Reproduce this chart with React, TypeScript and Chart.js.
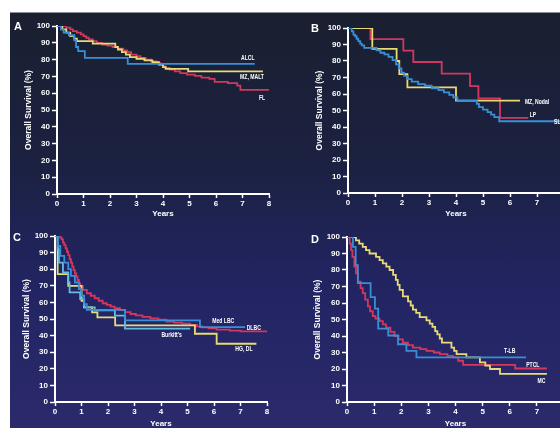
import React, { useEffect, useRef } from 'react';
import { Chart, registerables } from 'chart.js';

Chart.register(...registerables);

type Pt = [number, number];

// ---------- axes ----------
const X_MIN = 0;
const X_MAX = 8;
const X_STEP = 1;
const Y_MIN = 0;
const Y_MAX = 100;
const Y_STEP = 10;
const Y_TITLE = 'Overall Survival (%)';
const X_TITLE = 'Years';

// ---------- Panel A ----------
const A_ALCL: Pt[] = [
  [0, 100], [0.15, 98], [0.25, 96], [0.45, 94.5], [0.65, 91.5], [0.72, 87.5], [0.8, 85],
  [1.05, 81], [2.67, 77.5], [7.46, 77.5],
];
const A_MZ_MALT: Pt[] = [
  [0, 100], [0.2, 98], [0.35, 96], [0.5, 94], [0.65, 92.5], [0.75, 91], [1.35, 89.5],
  [2.2, 87.5], [2.3, 86], [2.45, 84.5], [2.6, 83], [2.75, 81.5], [3.0, 80.5], [3.3, 79.5],
  [3.6, 78.5], [3.85, 77], [4.0, 75.5], [4.1, 74.5], [4.95, 73], [7.77, 73],
];
const A_FL: Pt[] = [
  [0, 100], [0.35, 99], [0.5, 98], [0.6, 97], [0.75, 96], [0.9, 95], [1.0, 94], [1.1, 93],
  [1.2, 92], [1.35, 91], [1.5, 90], [1.7, 89], [1.9, 88.3], [2.1, 87.5], [2.3, 86.5],
  [2.5, 85.5], [2.65, 84.5], [2.8, 83], [3.0, 82], [3.15, 81], [3.35, 80], [3.55, 79],
  [3.75, 78], [3.9, 77], [4.0, 76], [4.1, 75], [4.25, 74], [4.45, 73], [4.65, 72], [4.9, 71],
  [5.2, 70.3], [5.45, 69.3], [5.75, 68.5], [5.95, 66.8], [6.45, 66], [6.8, 64.5], [6.92, 62],
  [8, 62],
];

// ---------- Panel B ----------
const B_LP: Pt[] = [
  [0, 100], [0.83, 93.3], [2.05, 86.3], [2.42, 79.4], [3.47, 72.3], [4.52, 64.8], [4.83, 57.3],
  [5.63, 45.5], [6.68, 45.5],
];
const B_MZ_NODAL: Pt[] = [
  [0, 100], [0.9, 87.3], [1.8, 80], [1.9, 72], [2.2, 64], [4.0, 56], [6.37, 56],
];
const B_SLL: Pt[] = [
  [0, 100], [0.14, 98], [0.2, 96], [0.26, 95], [0.32, 93.5], [0.38, 92], [0.45, 90.5],
  [0.51, 89.5], [0.6, 88], [1.06, 86.5], [1.2, 85], [1.35, 84], [1.5, 82.5], [1.65, 80.5],
  [1.78, 78], [1.88, 75.5], [1.98, 73], [2.08, 71], [2.2, 69], [2.36, 67.5], [2.6, 66],
  [2.85, 65], [3.1, 63.5], [3.35, 62.3], [3.55, 61], [3.75, 59.5], [3.9, 58], [4.05, 56],
  [4.77, 54], [4.85, 52], [5.0, 50.5], [5.17, 49], [5.3, 47.5], [5.42, 46], [5.6, 43.5],
  [8, 43.5],
];

// ---------- Panel C ----------
const C_DLBC: Pt[] = [
  [0, 100], [0.2, 99], [0.25, 98], [0.3, 96], [0.35, 94.5], [0.4, 92.5], [0.45, 90.5],
  [0.5, 88.5], [0.55, 86], [0.6, 84], [0.65, 81.5], [0.7, 79.5], [0.75, 77.5], [0.8, 75.5],
  [0.85, 73.5], [0.9, 71.5], [0.95, 70], [1.05, 67.5], [1.2, 65.5], [1.35, 64], [1.5, 62.5],
  [1.65, 61], [1.8, 59.5], [1.95, 58.5], [2.1, 57.5], [2.25, 56.5], [2.45, 55.3], [2.65, 54.2],
  [2.85, 53], [3.05, 52.2], [3.3, 51.3], [3.6, 50.4], [3.9, 49.6], [4.2, 48.5], [4.5, 47.8],
  [4.8, 47.2], [5.1, 46.5], [5.35, 45.6], [5.55, 45], [5.8, 44.3], [6.1, 43.6], [6.6, 43],
  [7.0, 42.5], [8, 42.5],
];
const C_MED_LBC: Pt[] = [
  [0, 100], [0.12, 94], [0.2, 88], [0.35, 84], [0.5, 80], [0.6, 76], [0.75, 72], [0.9, 68],
  [1.0, 64], [1.1, 59], [1.2, 55.5], [2.64, 49.2], [5.47, 45.1], [7.17, 45.1],
];
const C_BURKITT: Pt[] = [
  [0, 100], [0.1, 92], [0.15, 84], [0.3, 78], [0.5, 72], [0.55, 66], [0.95, 62], [1.1, 57],
  [1.5, 55.2], [2.26, 52], [2.64, 44.2], [5.1, 44.2],
];
const C_HG_DL: Pt[] = [
  [0, 100], [0.1, 77], [0.5, 70], [1.0, 61], [1.1, 57], [1.4, 54], [1.6, 51], [2.27, 46.2],
  [5.28, 41.1], [6.1, 35.1], [7.6, 35.1],
];

// ---------- Panel D ----------
const D_MC: Pt[] = [
  [0, 100], [0.33, 98], [0.45, 96], [0.58, 94], [0.7, 92], [0.83, 90], [1.07, 88], [1.2, 86],
  [1.32, 84], [1.45, 82], [1.57, 80], [1.7, 77], [1.8, 74], [1.87, 71], [1.94, 68], [2.06, 64],
  [2.25, 61], [2.35, 58.5], [2.43, 56], [2.55, 54], [2.68, 51.5], [2.93, 49.5], [3.05, 47.5],
  [3.15, 45.5], [3.25, 43], [3.33, 41], [3.42, 38.5], [3.5, 36], [3.85, 33], [3.95, 31],
  [4.04, 29], [4.4, 27], [4.9, 24], [5.1, 22], [5.27, 20], [5.64, 17], [7.37, 17],
];
const D_PTCL: Pt[] = [
  [0, 100], [0.1, 96], [0.15, 92], [0.2, 88], [0.27, 82], [0.33, 78], [0.4, 73], [0.5, 69],
  [0.58, 66], [0.67, 62], [0.77, 58], [0.85, 55], [0.95, 52], [1.05, 50.5], [1.2, 49],
  [1.32, 47], [1.44, 45], [1.6, 42.5], [1.75, 40], [1.9, 38], [2.06, 36], [2.25, 34.5],
  [2.43, 33], [2.7, 32], [2.93, 31], [3.2, 30], [3.42, 29], [3.7, 28], [3.91, 27], [4.1, 25],
  [4.28, 22.5], [6.2, 20.3], [7.37, 20.3],
];
const D_TLB: Pt[] = [
  [0, 100], [0.22, 94], [0.32, 83], [0.4, 72], [0.87, 63.6], [1.03, 56.6], [1.15, 44.5],
  [1.52, 40.3], [1.88, 35], [2.19, 31], [2.56, 27], [6.6, 27],
];

// ---------- styles ----------
const RED = '#d3375f';
const YELLOW = '#e8da74';
const BLUE = '#3a8ed6';
const CYAN = '#63bde0';
const WHITE = '#ffffff';
const FONT = '"Liberation Sans", Arial, sans-serif';

interface SeriesDef {
  name: string;
  data: Pt[];
  color: string;
  at: Pt; // label anchor in data units
  align?: CanvasTextAlign;
}
interface PanelDef {
  letter: string;
  letterPos: { left: number; top: number };
  box: { left: number; top: number; width: number; height: number };
  pad: { left: number; top: number; right: number; bottom: number };
  yW: number;
  xH: number;
  series: SeriesDef[];
}

const PANELS: PanelDef[] = [
  {
    letter: 'A',
    letterPos: { left: 14, top: 20.5 },
    box: { left: 0, top: 0, width: 280, height: 226 },
    pad: { left: 24, top: 26, right: 11, bottom: 7 },
    yW: 33,
    xH: 25,
    series: [
      { name: 'ALCL', data: A_ALCL, color: BLUE, at: [7.2, 81] },
      { name: 'MZ, MALT', data: A_MZ_MALT, color: YELLOW, at: [7.36, 69.6] },
      { name: 'FL', data: A_FL, color: RED, at: [7.74, 57.1] },
    ],
  },
  {
    letter: 'B',
    letterPos: { left: 311, top: 23 },
    box: { left: 280, top: 0, width: 300, height: 226 },
    pad: { left: 35, top: 28, right: 16, bottom: 7 },
    yW: 33,
    xH: 26,
    series: [
      { name: 'SLL', data: B_SLL, color: BLUE, at: [7.63, 43.2], align: 'left' },
      { name: 'MZ, Nodal', data: B_MZ_NODAL, color: YELLOW, at: [7.0, 55.2] },
      { name: 'LP', data: B_LP, color: RED, at: [6.85, 47.3] },
    ],
  },
  {
    letter: 'C',
    letterPos: { left: 13, top: 232 },
    box: { left: 0, top: 214, width: 280, height: 220 },
    pad: { left: 22, top: 22, right: 13, bottom: 5 },
    yW: 33,
    xH: 27,
    series: [
      { name: 'Med LBC', data: C_MED_LBC, color: BLUE, at: [6.35, 48.6] },
      { name: "Burkitt's", data: C_BURKITT, color: CYAN, at: [4.4, 40.5] },
      { name: 'HG, DL', data: C_HG_DL, color: YELLOW, at: [7.13, 32] },
      { name: 'DLBC', data: C_DLBC, color: RED, at: [7.5, 44.6] },
    ],
  },
  {
    letter: 'D',
    letterPos: { left: 311, top: 234 },
    box: { left: 280, top: 214, width: 300, height: 220 },
    pad: { left: 33, top: 23, right: 16, bottom: 5 },
    yW: 34,
    xH: 27,
    series: [
      { name: 'T-LB', data: D_TLB, color: BLUE, at: [6.0, 30.9] },
      { name: 'MC', data: D_MC, color: YELLOW, at: [7.17, 12.7] },
      { name: 'PTCL', data: D_PTCL, color: RED, at: [6.85, 22.4] },
    ],
  },
];

const LABEL_SQUEEZE = 0.78;

function PanelChart({ panel }: { panel: PanelDef }) {
  const ref = useRef<HTMLCanvasElement | null>(null);

  useEffect(() => {
    if (!ref.current) return;
    const labelPlugin = {
      id: 'curveLabels',
      afterDatasetsDraw(chart: any) {
        const { ctx } = chart;
        const xs = chart.scales.x;
        const ys = chart.scales.y;
        ctx.save();
        ctx.fillStyle = WHITE;
        ctx.font = `bold 6.5px ${FONT}`;
        ctx.textBaseline = 'middle';
        for (const s of panel.series) {
          const px = xs.getPixelForValue(s.at[0]);
          const py = ys.getPixelForValue(s.at[1]);
          ctx.save();
          ctx.translate(px, py);
          ctx.scale(LABEL_SQUEEZE, 1);
          ctx.textAlign = s.align || 'center';
          ctx.fillText(s.name, 0, 0);
          ctx.restore();
        }
        ctx.restore();
      },
    };

    const chart = new Chart(ref.current, {
      type: 'line',
      data: {
        datasets: panel.series.map((s) => ({
          label: s.name,
          data: s.data.map(([x, y]) => ({ x, y })),
          borderColor: s.color,
          backgroundColor: s.color,
          borderWidth: 1.8,
          pointRadius: 0,
          stepped: true,
          fill: false,
          tension: 0,
        })),
      },
      options: {
        responsive: false,
        maintainAspectRatio: false,
        animation: false,
        events: [],
        layout: { padding: panel.pad },
        plugins: {
          legend: { display: false },
          tooltip: { enabled: false },
          title: { display: false },
        },
        scales: {
          x: {
            type: 'linear',
            min: X_MIN,
            max: X_MAX,
            afterFit: (scale: any) => {
              scale.height = panel.xH;
            },
            ticks: {
              stepSize: X_STEP,
              color: WHITE,
              font: { family: FONT, size: 8, weight: 'bold' },
              padding: 1,
              maxRotation: 0,
              autoSkip: false,
            },
            grid: {
              display: true,
              drawOnChartArea: false,
              drawTicks: true,
              tickLength: 4,
              tickColor: WHITE,
              tickWidth: 1.5,
            },
            border: { display: true, color: WHITE, width: 2 },
            title: {
              display: true,
              text: X_TITLE,
              color: WHITE,
              font: { family: FONT, size: 8, weight: 'bold' },
              padding: 0,
            },
          },
          y: {
            type: 'linear',
            min: Y_MIN,
            max: Y_MAX,
            afterFit: (scale: any) => {
              scale.width = panel.yW;
            },
            ticks: {
              stepSize: Y_STEP,
              color: WHITE,
              font: { family: FONT, size: 8, weight: 'bold' },
              padding: 2,
            },
            grid: {
              display: true,
              drawOnChartArea: false,
              drawTicks: true,
              tickLength: 5,
              tickColor: WHITE,
              tickWidth: 1.5,
            },
            border: { display: true, color: WHITE, width: 2 },
            title: {
              display: true,
              text: Y_TITLE,
              color: WHITE,
              font: { family: FONT, size: 8.5, weight: 'bold' },
              padding: 0,
            },
          },
        },
      } as any,
      plugins: [labelPlugin],
    });
    return () => chart.destroy();
  }, [panel]);

  return (
    <canvas
      ref={ref}
      width={panel.box.width}
      height={panel.box.height}
      style={{
        position: 'absolute',
        left: panel.box.left,
        top: panel.box.top,
        width: panel.box.width,
        height: panel.box.height,
      }}
    />
  );
}

export default function App() {
  return (
    <div
      style={{
        position: 'fixed',
        left: 0,
        top: 0,
        width: 560,
        height: 428,
        overflow: 'hidden',
        background: '#ffffff',
      }}
    >
      <div
        style={{
          position: 'absolute',
          left: 10,
          top: 12,
          right: 0,
          bottom: 0,
          background:
            'linear-gradient(to bottom, #1a2030 0%, #1b2140 35%, #222462 65%, #2b2a6c 100%)',
          borderTop: '1px solid #8a9098',
        }}
      />
      {PANELS.map((p) => (
        <PanelChart key={p.letter} panel={p} />
      ))}
      {PANELS.map((p) => (
        <div
          key={'l' + p.letter}
          style={{
            position: 'absolute',
            left: p.letterPos.left,
            top: p.letterPos.top,
            color: WHITE,
            fontFamily: FONT,
            fontWeight: 'bold',
            fontSize: 11,
            lineHeight: '11px',
          }}
        >
          {p.letter}
        </div>
      ))}
    </div>
  );
}
